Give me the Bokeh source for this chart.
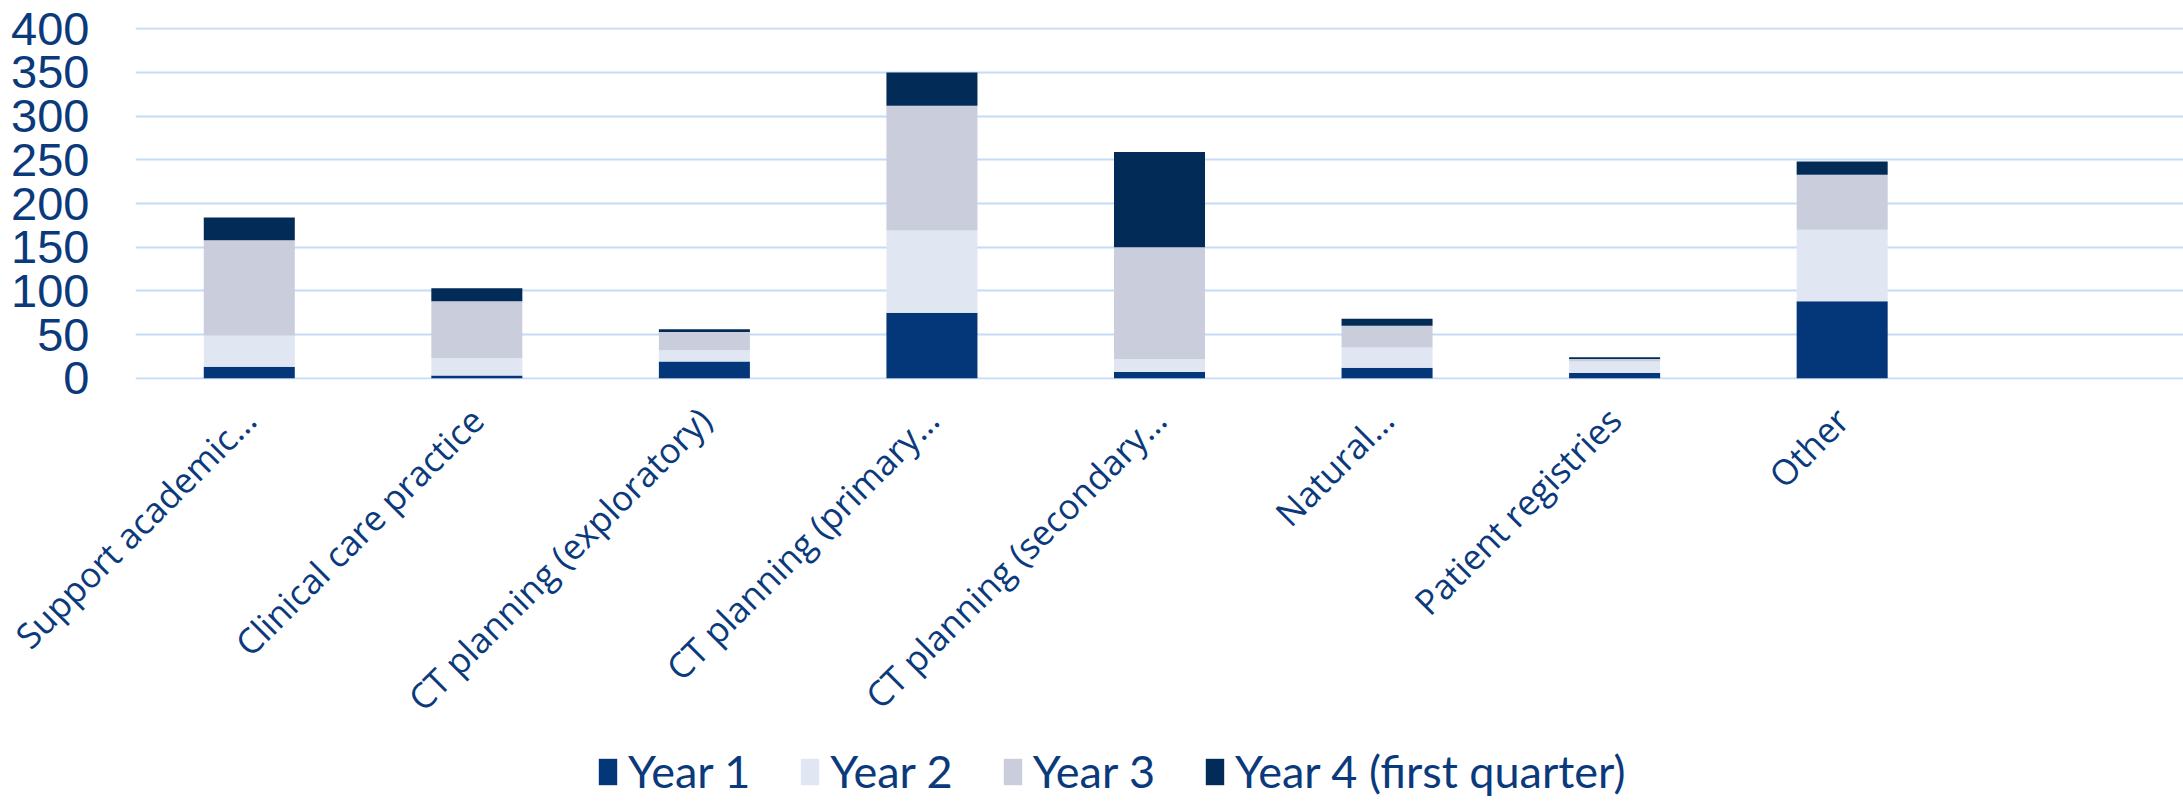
import math
from bokeh.plotting import figure
from bokeh.layouts import column
from bokeh.models import ColumnDataSource, FactorRange, Range1d, FixedTicker, Legend, LegendItem
from bokeh.embed import file_html
from bokeh.resources import INLINE

categories = ["Support academic…", "Clinical care practice", "CT planning (exploratory)",
              "CT planning (primary…", "CT planning (secondary…", "Natural…",
              "Patient registries", "Other"]
empty_slot = [" "]
year1 = [13, 3, 19, 75, 7, 12, 6, 88]
year2 = [36, 20, 13, 94, 15, 23, 13, 82]
year3 = [109, 65, 21, 143, 128, 25, 3, 63]
year4 = [26, 15, 3, 38, 109, 8, 2, 15]
series_names = ["Year 1", "Year 2", "Year 3", "Year 4 (first quarter)"]
colors = ["#04367A", "#E0E7F2", "#C9CDDC", "#022B57"]
y_ticks = [0, 50, 100, 150, 200, 250, 300, 350, 400]

TEXT = "#0B3A7C"
W = 2183
H_MAIN = 739
H_LEG = 64

source = ColumnDataSource(dict(cat=categories, y1=year1, y2=year2, y3=year3, y4=year4))
stackers = ["y1", "y2", "y3", "y4"]

p = figure(width=W, height=H_MAIN, output_backend="svg", toolbar_location=None,
           x_range=FactorRange(*(categories + empty_slot), range_padding=0),
           y_range=Range1d(-1.5, 401.5),
           min_border_left=135, min_border_right=0, min_border_top=27,
           min_border_bottom=H_MAIN - 379)
p.outline_line_color = None
p.background_fill_color = "white"

p.vbar_stack(stackers, x="cat", width=0.4, color=colors, line_color=None, source=source)

p.xgrid.grid_line_color = None
p.ygrid.grid_line_color = "#C6DCF6"
p.ygrid.grid_line_width = 2

p.yaxis.ticker = FixedTicker(ticks=y_ticks)
p.yaxis.axis_line_color = None
p.yaxis.major_tick_line_color = None
p.yaxis.minor_tick_line_color = None
p.yaxis.major_label_text_font = "Liberation Sans"
p.yaxis.major_label_text_font_size = "47px"
p.yaxis.major_label_text_color = TEXT
p.yaxis.major_label_standoff = 40

p.xaxis.axis_line_color = None
p.xaxis.major_tick_line_color = None
p.xaxis.minor_tick_line_color = None
p.xaxis.major_label_orientation = math.pi / 4
p.xaxis.major_label_text_font = "Open Sans"
p.xaxis.major_label_text_font_size = "35px"
p.xaxis.major_label_text_color = TEXT
p.xaxis.major_label_standoff = 28

# legend strip below the chart (same series, renderers hidden; only the key is shown)
pl = figure(width=W, height=H_LEG, output_backend="svg", toolbar_location=None,
            x_range=FactorRange(*(categories + empty_slot), range_padding=0),
            y_range=Range1d(0, 1),
            min_border_left=135, min_border_right=0, min_border_top=0, min_border_bottom=0)
pl.axis.visible = False
pl.grid.visible = False
pl.outline_line_color = None
key_renderers = pl.vbar_stack(stackers, x="cat", width=0.4, color=colors, line_color=None,
                              source=source, visible=False)

legend = Legend(items=[LegendItem(label=n, renderers=[r]) for n, r in zip(series_names, key_renderers)],
                orientation="horizontal", location=(461, 5), click_policy="none",
                label_text_font="Lato", label_text_font_size="45px", label_text_color=TEXT,
                glyph_width=23, glyph_height=33, label_standoff=9, spacing=48,
                padding=0, margin=0, border_line_color=None, background_fill_alpha=0)
pl.add_layout(legend, "center")

layout = column(p, pl, spacing=0)
open("out.html", "w").write(file_html(layout, INLINE))
